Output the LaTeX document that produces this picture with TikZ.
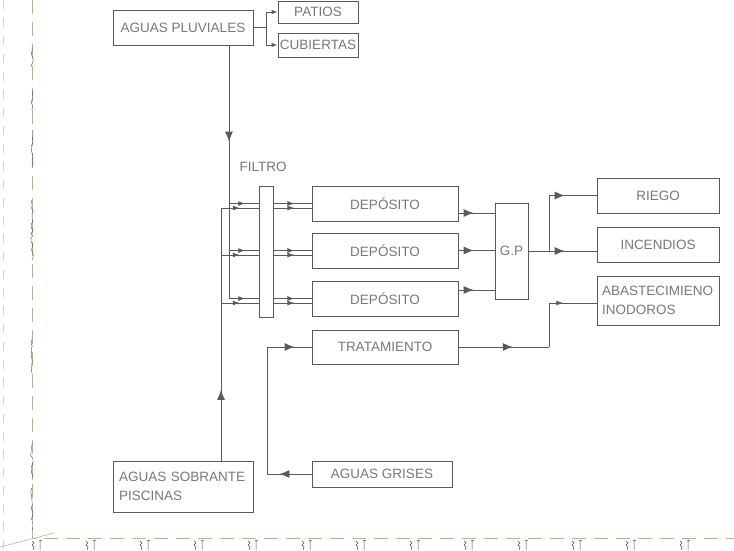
\documentclass[tikz,border=0pt]{standalone}
\usepackage{fontspec}
\setmainfont{Liberation Sans}
\usepackage{xcolor}
\usepackage{tikz}
\usetikzlibrary{calc, arrows.meta, decorations.markings, decorations.pathmorphing}

\definecolor{linea}{HTML}{5A5A5A}
\definecolor{texto}{HTML}{787878}
\definecolor{borde}{HTML}{C9AD91}

\begin{document}
\begin{tikzpicture}[x=1pt, y=-1pt, >={Latex[length=6pt,width=4.5pt]},
    caja/.style={draw=linea, line width=0.9pt, text=texto, inner sep=0pt,
        font=\fontsize{13.5}{19.5}\selectfont},
    etiqueta/.style={text=texto, inner sep=0pt, font=\fontsize{13.5}{19.5}\selectfont},
    tubo/.style={draw=linea, line width=0.9pt},
    flecha/.style={postaction={decorate}, decoration={markings,
        mark=at position #1 with {\arrow{Latex[length=10pt,width=8pt]}}}},
    flechita/.style={postaction={decorate}, decoration={markings,
        mark=at position #1 with {\arrow{Latex[length=7pt,width=5pt]}}}}]
    \useasboundingbox (0,0) rectangle (734,550);

    % 1. Cajas
    \node[caja, minimum width=140pt, minimum height=35pt] (pluv) at (183,27.5) {AGUAS PLUVIALES};
    \node[caja, minimum width=80pt, minimum height=22pt] (patios) at (318,12) {PATIOS};
    \node[caja, minimum width=80pt, minimum height=24pt] (cubiertas) at (318,45) {CUBIERTAS};
    \node[caja, minimum width=14pt, minimum height=131pt] (filtro) at (266,251.5) {};
    \node[etiqueta] (lblfiltro) at (263,167) {FILTRO};
    \foreach \i/\y in {1/203.5, 2/250.5, 3/298.5}
        \node[caja, minimum width=146pt, minimum height=35pt] (dep\i) at (385,\y) {DEPÓSITO};
    \node[caja, minimum width=33pt, minimum height=96pt] (gp) at (511.5,251) {G.P};
    \node[caja, minimum width=122pt, minimum height=35pt] (riego) at (658,195.5) {RIEGO};
    \node[caja, minimum width=122pt, minimum height=35pt] (incendios) at (658,244.5) {INCENDIOS};
    \node[caja, minimum width=122pt, minimum height=49pt, text width=112pt, align=left]
        (abast) at (658,300.5) {\mbox{ABASTECIMIENO}\\INODOROS};
    \node[caja, minimum width=146pt, minimum height=34pt] (trat) at (385,347) {TRATAMIENTO};
    \node[caja, minimum width=140pt, minimum height=26pt] (grises) at (382,474) {AGUAS GRISES};
    \node[caja, minimum width=140pt, minimum height=51pt, text width=128pt, align=left]
        (sobrante) at (183,486.5) {\mbox{AGUAS SOBRANTE}\\PISCINAS};

    % 2. Aguas pluviales
    \coordinate (rp) at (266,27.5);
    \draw[tubo] (pluv.east) -- (rp);
    \draw[tubo, ->] (rp) |- (patios.west);
    \draw[tubo, ->] (rp) |- (cubiertas.west);
    \coordinate (va) at (229,298.5);
    \coordinate (vb) at (221,208);
    \draw[tubo, flecha=0.38] (pluv.south -| va) -- (va);
    \draw[tubo, flecha=0.28] (sobrante.north -| vb) -- (vb);

    % 3. Filtro y depositos
    \foreach \i in {1,2,3} {
        \draw[tubo, flechita=0.55] (va |- dep\i) -- (filtro.west |- dep\i);
        \draw[tubo, flechita=0.5] ($(vb |- dep\i)+(0,4.5)$) -- ($(filtro.west |- dep\i)+(0,4.5)$);
        \draw[tubo, flechita=0.55] (filtro.east |- dep\i) -- (dep\i.west);
        \draw[tubo, flechita=0.55] ($(filtro.east |- dep\i)+(0,4.5)$) -- ($(dep\i.west)+(0,4.5)$);
    }

    % 4. Grupo de presion
    \draw[tubo, flecha=0.42] (dep1.east |- 0,213) -- (gp.west |- 0,213);
    \draw[tubo, flecha=0.42] (dep2.east) -- (gp.west |- dep2.east);
    \draw[tubo, flecha=0.42] (dep3.east |- 0,290) -- (gp.west |- 0,290);
    \coordinate (rg) at (549,251);
    \draw[tubo] (gp.east) -- (rg) -- (rg |- riego.west);
    \draw[tubo, flecha=0.33] (rg |- riego.west) -- (riego.west);
    \draw[tubo, flecha=0.33] (rg) -- (incendios.west |- rg);

    % 5. Aguas grises
    \coordinate (rt) at (267,347);
    \coordinate (ra) at (549,303);
    \draw[tubo, flecha=0.72] (grises.west) -- (grises.west -| rt);
    \draw[tubo] (grises.west -| rt) -- (rt);
    \draw[tubo, flecha=0.62] (rt) -- (trat.west);
    \draw[tubo, flecha=0.6] (trat.east) -- (trat.east -| ra);
    \draw[tubo] (trat.east -| ra) -- (ra);
    \draw[tubo, flechita=0.3] (ra) -- (abast.west |- ra);

    % 6. Marco
    \draw[gray!35, dash pattern=on 9pt off 9pt, line width=0.8pt] (3,0) -- (3,550);
    \draw[borde, dash pattern=on 14pt off 8pt, line width=1pt] (32,0) -- (32,538) -- (734,538);
    \draw[gray!60, line width=0.6pt] (0,547) -- (54,533);
    \pgfmathsetseed{7}
    \foreach \a/\b in {47/67, 90/110, 130/167, 200/260, 337/373, 443/480, 488/530}
        \draw[black!70, line width=0.4pt, decorate,
            decoration={random steps, segment length=3pt, amplitude=1.2pt}] (32,\a) -- (32,\b);
    \foreach \x in {36,90,...,684} {
        \draw[black!70, line width=0.5pt] (\x-4,541) -- (\x-2,543) -- (\x-4,545) -- (\x-2,547) -- (\x-3,550);
        \draw[black!70, line width=0.5pt] (\x+3,541) -- (\x+6,540) (\x+4,540) -- (\x+4,550);
    }
\end{tikzpicture}
\end{document}
